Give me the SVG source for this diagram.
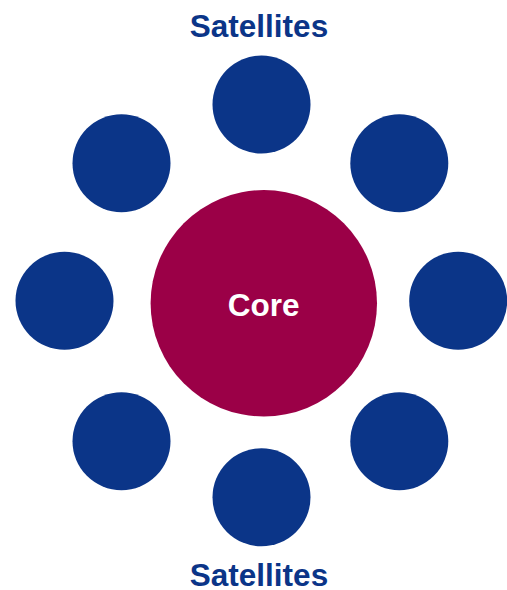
<svg xmlns="http://www.w3.org/2000/svg" width="507" height="590" viewBox="0 0 507 590">
  <style>
    .sat { fill: #0b3588; }
    .core { fill: #9b0047; }
    .title { font-family: "Liberation Sans", Arial, sans-serif; font-weight: bold; font-size: 31.5px; fill: #0b3588; text-anchor: middle; }
    .core-label { font-family: "Liberation Sans", Arial, sans-serif; font-weight: bold; font-size: 31.5px; fill: #ffffff; text-anchor: middle; }
  </style>
  <rect width="507" height="590" fill="#ffffff"/>

  <text class="title" x="259" y="36.5">Satellites</text>
  <text class="title" x="259" y="585.5">Satellites</text>

  <g id="connectors"></g>

  <g id="core">
    <circle class="core" cx="263.8" cy="303.3" r="113.2"/>
    <text class="core-label" x="263.7" y="315.5">Core</text>
  </g>

  <g id="satellite-top"><circle class="sat" cx="261.5" cy="104.5" r="49"/></g>
  <g id="satellite-top-right"><circle class="sat" cx="399.3" cy="163.2" r="49"/></g>
  <g id="satellite-right"><circle class="sat" cx="458.2" cy="300.8" r="49"/></g>
  <g id="satellite-bottom-right"><circle class="sat" cx="399.3" cy="441.2" r="49"/></g>
  <g id="satellite-bottom"><circle class="sat" cx="261.5" cy="497.3" r="49"/></g>
  <g id="satellite-bottom-left"><circle class="sat" cx="121.5" cy="441.2" r="49"/></g>
  <g id="satellite-left"><circle class="sat" cx="64.5" cy="300.8" r="49"/></g>
  <g id="satellite-top-left"><circle class="sat" cx="121.5" cy="163.2" r="49"/></g>
</svg>
